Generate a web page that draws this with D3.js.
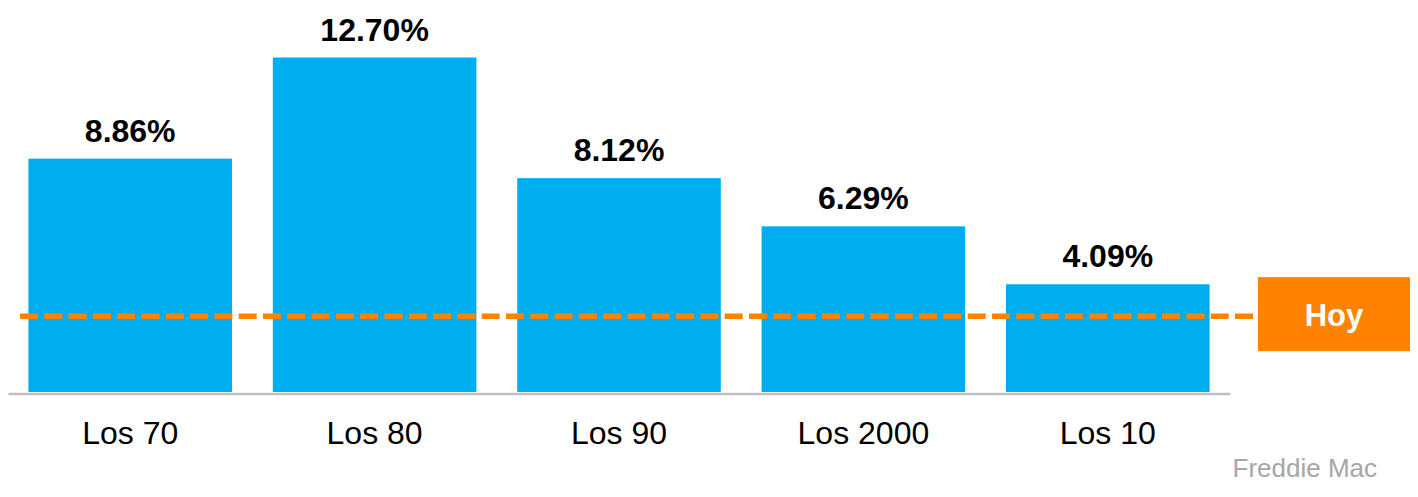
<!DOCTYPE html>
<html>
<head>
<meta charset="utf-8">
<script src="https://cdn.jsdelivr.net/npm/d3@7"></script>
<style>
  body { margin: 0; background: #fff; }
  svg { display: block; font-family: "Liberation Sans", Arial, sans-serif; }
</style>
</head>
<body>
<div id="chart"></div>
<script>
// decades and 30-year fixed average rates (Freddie Mac)
var categories = ["Los 70", "Los 80", "Los 90", "Los 2000", "Los 10"];
var rates = [8.86, 12.70, 8.12, 6.29, 4.09];
var valueLabels = ["8.86%", "12.70%", "8.12%", "6.29%", "4.09%"];
var todayRate = 2.88;
var todayLabel = "Hoy";
var sourceLabel = "Freddie Mac";

var width = 1418, height = 497;
var svg = d3.select("#chart").append("svg")
    .attr("width", width)
    .attr("height", height);

var x = d3.scaleBand()
    .domain(categories)
    .range([8, 1230])
    .paddingInner(0.167)
    .paddingOuter(0.0835);

var y = d3.scaleLinear()
    .domain([0, 12.7])
    .range([392, 57.5]);

var data = categories.map(function (c, i) {
    return { cat: c, value: rates[i], label: valueLabels[i] };
});

// bars
svg.append("g").selectAll("rect")
    .data(data)
    .enter().append("rect")
    .attr("x", function (d) { return x(d.cat); })
    .attr("y", function (d) { return y(d.value); })
    .attr("width", x.bandwidth())
    .attr("height", function (d) { return y(0) - y(d.value); })
    .attr("fill", "#00AEEF");

// value labels
svg.append("g").selectAll("text")
    .data(data)
    .enter().append("text")
    .attr("x", function (d) { return x(d.cat) + x.bandwidth() / 2; })
    .attr("y", function (d) { return y(d.value) - 17; })
    .attr("text-anchor", "middle")
    .attr("font-size", 32)
    .attr("font-weight", "bold")
    .attr("fill", "#000")
    .text(function (d) { return d.label; });

// x axis
var xAxis = svg.append("g")
    .attr("transform", "translate(0," + (y(0) + 1.5) + ")")
    .call(d3.axisBottom(x).tickSize(0).tickPadding(28));
xAxis.select(".domain")
    .attr("stroke", "#BFBFBF")
    .attr("stroke-width", 2.5);
xAxis.selectAll("text")
    .attr("font-size", 32)
    .attr("font-family", "Liberation Sans, Arial, sans-serif")
    .attr("fill", "#000");

// today's rate line
var boxX = 1258, boxW = 152, boxH = 74;
svg.append("line")
    .attr("x1", 20)
    .attr("x2", boxX)
    .attr("y1", y(todayRate))
    .attr("y2", y(todayRate))
    .attr("stroke", "#FF8300")
    .attr("stroke-width", 5.5)
    .attr("stroke-dasharray", "18,6.3");

svg.append("rect")
    .attr("x", boxX)
    .attr("y", y(todayRate) - 39)
    .attr("width", boxW)
    .attr("height", boxH)
    .attr("fill", "#FF8300");

svg.append("text")
    .attr("x", boxX + boxW / 2)
    .attr("y", y(todayRate) + 10)
    .attr("text-anchor", "middle")
    .attr("font-size", 31)
    .attr("font-weight", "bold")
    .attr("fill", "#fff")
    .text(todayLabel);

// source
svg.append("text")
    .attr("x", 1377)
    .attr("y", 477)
    .attr("text-anchor", "end")
    .attr("font-size", 26)
    .attr("fill", "#A6A6A6")
    .text(sourceLabel);
</script>
</body>
</html>
